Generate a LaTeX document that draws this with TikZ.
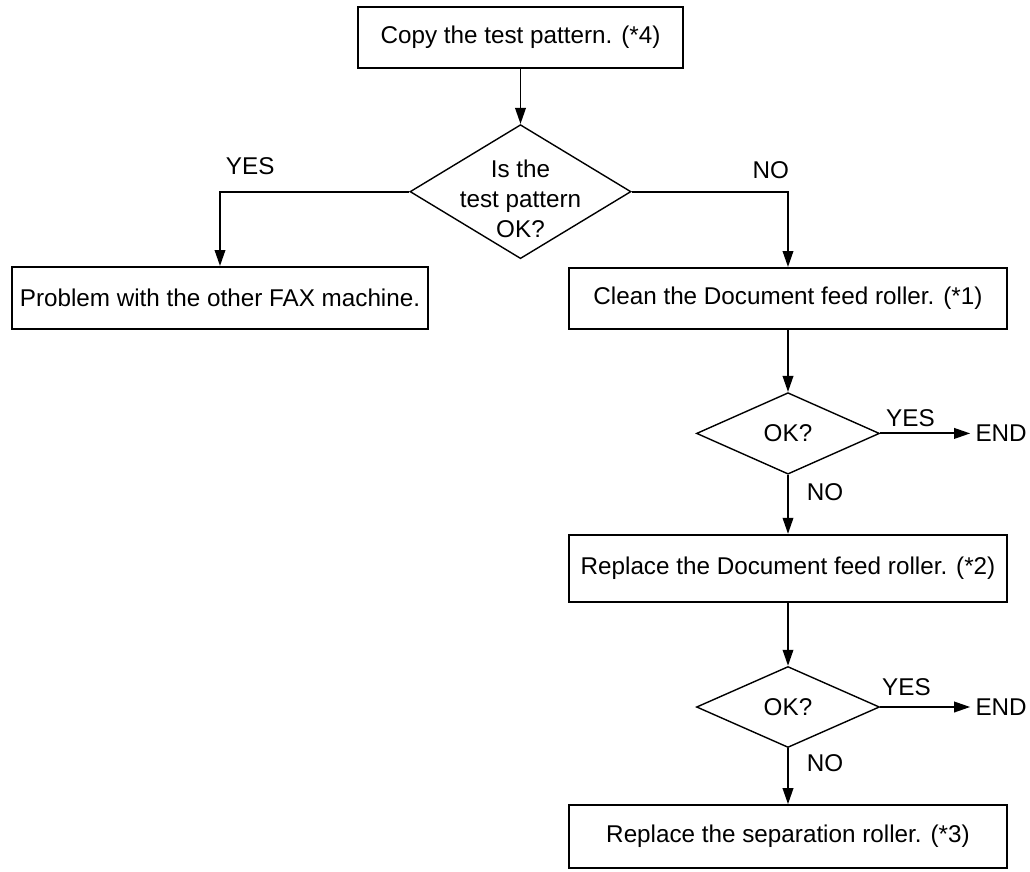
\documentclass[tikz,border=0pt]{standalone}
\usepackage{fontspec}
\setmainfont{Liberation Sans}
\usetikzlibrary{shapes.geometric, arrows.meta, positioning}
\tikzset{
	process/.style={rectangle, draw=black, line width=1.1pt, minimum height=1.22cm, align=center},
	decision/.style={diamond, draw=black, line width=0.8pt, inner sep=0pt, minimum width=3.66cm, minimum height=1.63cm, align=center},
	arrow/.style={line width=1.1pt,-{Triangle[length=3.2mm, width=2.1mm]}},
	endpoint/.style={inner sep=1mm},
	answer/.style={inner sep=0pt}
}
\begin{document}
\begin{tikzpicture}[font=\fontsize{13.8}{17}\selectfont]
		\useasboundingbox (0,0) rectangle (20.6,-17.44);
		% Prueba inicial
		\node (copy) [process, minimum width=6.5cm] at (10.41,-0.75) {Copy the test pattern. (*4)};
		\node (dec1) [decision, minimum width=4.42cm, minimum height=2.68cm, below=1.1cm of copy,
			label={[align=center, yshift=-1.4mm]center:Is the\\test pattern\\OK?}] {};
		\node (other) [process, minimum width=8.32cm, minimum height=1.24cm] at (4.40,-5.96) {Problem with the other FAX machine.};
		
		% Rama de los rodillos
		\node (clean) [process, minimum width=8.76cm] at (15.76,-5.97) {Clean the Document feed roller. (*1)};
		\node (dec2) [decision, below=1.24cm of clean] {OK?};
		\node (end1) [endpoint, anchor=west, right=1.8cm of dec2] {END};
		\node (feed) [process, minimum width=8.76cm, minimum height=1.34cm, below=1.18cm of dec2] {Replace the Document feed roller. (*2)};
		\node (dec3) [decision, minimum height=1.62cm, below=1.26cm of feed] {OK?};
		\node (end2) [endpoint, anchor=west, right=1.8cm of dec3] {END};
		\node (sep) [process, minimum width=8.76cm, minimum height=1.26cm, below=1.12cm of dec3] {Replace the separation roller. (*3)};
		
		% Conexiones
		\draw [arrow] (copy) -- (dec1);
		\draw [arrow] (dec1.west) -| node [answer, pos=0.5, anchor=south west, xshift=1mm, yshift=3.2mm] {YES} (other.north);
		\draw [arrow] (dec1.east) -| node [answer, pos=0.5, anchor=south east, xshift=0.4mm, yshift=2.4mm] {NO} (clean.north);
		\draw [arrow] (clean) -- (dec2);
		\draw [arrow] (dec2) -- node [answer, pos=0, anchor=south west, xshift=1mm, yshift=1.2mm] {YES} (end1);
		\draw [arrow] (dec2) -- node [answer, pos=0, anchor=north west, xshift=3.6mm, yshift=-1.6mm] {NO} (feed);
		\draw [arrow] (feed) -- (dec3);
		\draw [arrow] (dec3) -- node [answer, pos=0, anchor=south west, xshift=0.2mm, yshift=2mm] {YES} (end2);
		\draw [arrow] (dec3) -- node [answer, pos=0, anchor=north west, xshift=3.6mm, yshift=-1mm] {NO} (sep);
	\end{tikzpicture}
\end{document}
